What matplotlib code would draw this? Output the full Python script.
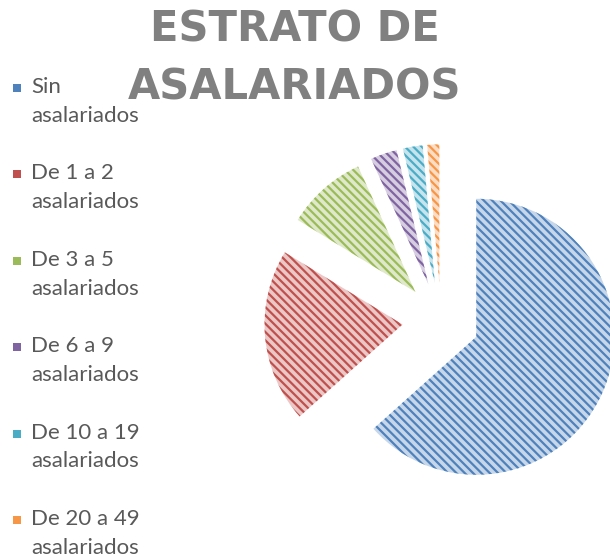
import matplotlib
matplotlib.use("Agg")
import matplotlib.pyplot as plt
from matplotlib.patches import Rectangle
from matplotlib.colors import to_rgb

# ---- data ----
categories = ["Sin\nasalariados", "De 1 a 2\nasalariados", "De 3 a 5\nasalariados",
              "De 6 a 9\nasalariados", "De 10 a 19\nasalariados", "De 20 a 49\nasalariados"]
values = [63.2, 20.3, 9.4, 3.1, 2.3, 1.4]
title = "ESTRATO DE\nASALARIADOS"

# ---- style ----
base_colors = ["#4F81BD", "#C0504D", "#9BBB59", "#8064A2", "#4BACC6", "#F79646"]


def tint(c, f=0.68):
    r, g, b = to_rgb(c)
    return (r + (1 - r) * f, g + (1 - g) * f, b + (1 - b) * f)


light_colors = [tint(c) for c in base_colors]

plt.rcParams["hatch.linewidth"] = 1.6

W, H = 610, 558
fig = plt.figure(figsize=(W / 100, H / 100), dpi=100)
fig.patch.set_facecolor("white")
ax = fig.add_axes([0, 0, 1, 1])

wedges, _ = ax.pie(values, startangle=90, counterclock=False,
                   explode=[0.28] * len(values), radius=1.0,
                   colors=light_colors)
for w, c in zip(wedges, base_colors):
    w.set_edgecolor(c)
    w.set_linewidth(0)
    w.set_hatch("\\\\\\\\")

# pixel mapping: centre at (441, 321) from top-left, radius 138 px
R = 138.0
cx, cy = 441.0, 321.0
ax.set_xlim(-cx / R, (W - cx) / R)
ax.set_ylim(-(H - cy) / R, cy / R)
ax.set_aspect("auto")
ax.axis("off")

# title
fig.text(295 / W, 1 - 8 / H, title, ha="center", va="top", fontsize=30,
         fontweight="bold", color="#808080", family="DejaVu Sans",
         linespacing=1.5)

# legend (manual, left column)
pitch = 86.4
for i, (lab, fc, ec) in enumerate(zip(categories, light_colors, base_colors)):
    ytop = 81 + pitch * i
    sq = Rectangle((13 / W, 1 - (ytop + 11) / H), 8 / W, 8 / H,
                   transform=fig.transFigure, facecolor=ec, edgecolor=ec,
                   linewidth=0)
    fig.patches.append(sq)
    fig.text(31 / W, 1 - (ytop - 4) / H, lab, ha="left", va="top",
             fontsize=16, family="Lato", color="#595959", linespacing=1.55)

fig.savefig("out.png", dpi=100, facecolor="white")
